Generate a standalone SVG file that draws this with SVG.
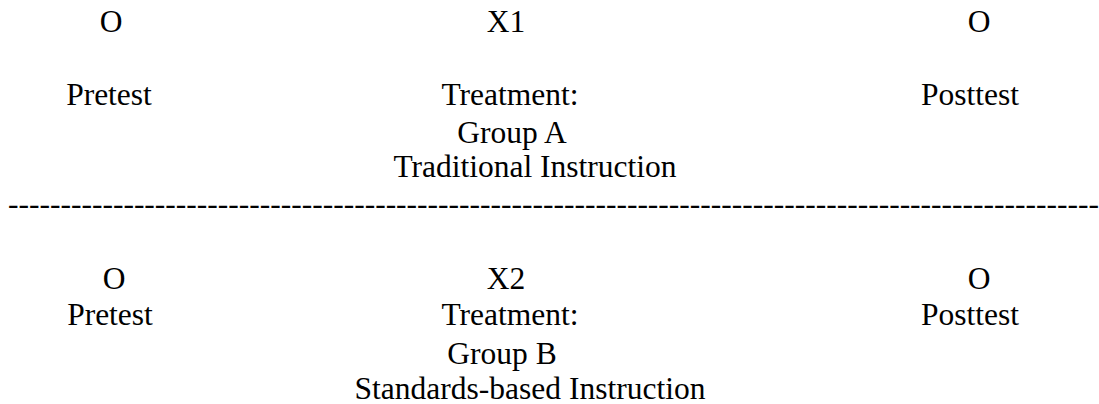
<svg xmlns="http://www.w3.org/2000/svg" width="1099" height="404" viewBox="0 0 1099 404">
<style>
text{font-family:"Liberation Serif","Times New Roman",serif;font-size:31.5px;fill:#000;text-anchor:middle}
.sep{text-anchor:start}
</style>
<rect width="1099" height="404" fill="#fff"/>
<g id="groupA">
<g id="pretestA"><text x="111" y="32">O</text><text x="109" y="105">Pretest</text></g>
<g id="treatmentA"><text x="506" y="32">X1</text><text x="510" y="105">Treatment:</text><text x="512" y="143">Group A</text><text x="535" y="177">Traditional Instruction</text></g>
<g id="posttestA"><text x="979" y="32">O</text><text x="970" y="105">Posttest</text></g>
</g>
<g id="separator"><text class="sep" x="8" y="214">--------------------------------------------------------------------------------------------------------</text></g>
<g id="groupB">
<g id="pretestB"><text x="114" y="289">O</text><text x="110" y="325">Pretest</text></g>
<g id="treatmentB"><text x="506" y="289">X2</text><text x="510" y="325">Treatment:</text><text x="502" y="364">Group B</text><text x="530" y="399">Standards-based Instruction</text></g>
<g id="posttestB"><text x="979" y="289">O</text><text x="970" y="325">Posttest</text></g>
</g>
</svg>
